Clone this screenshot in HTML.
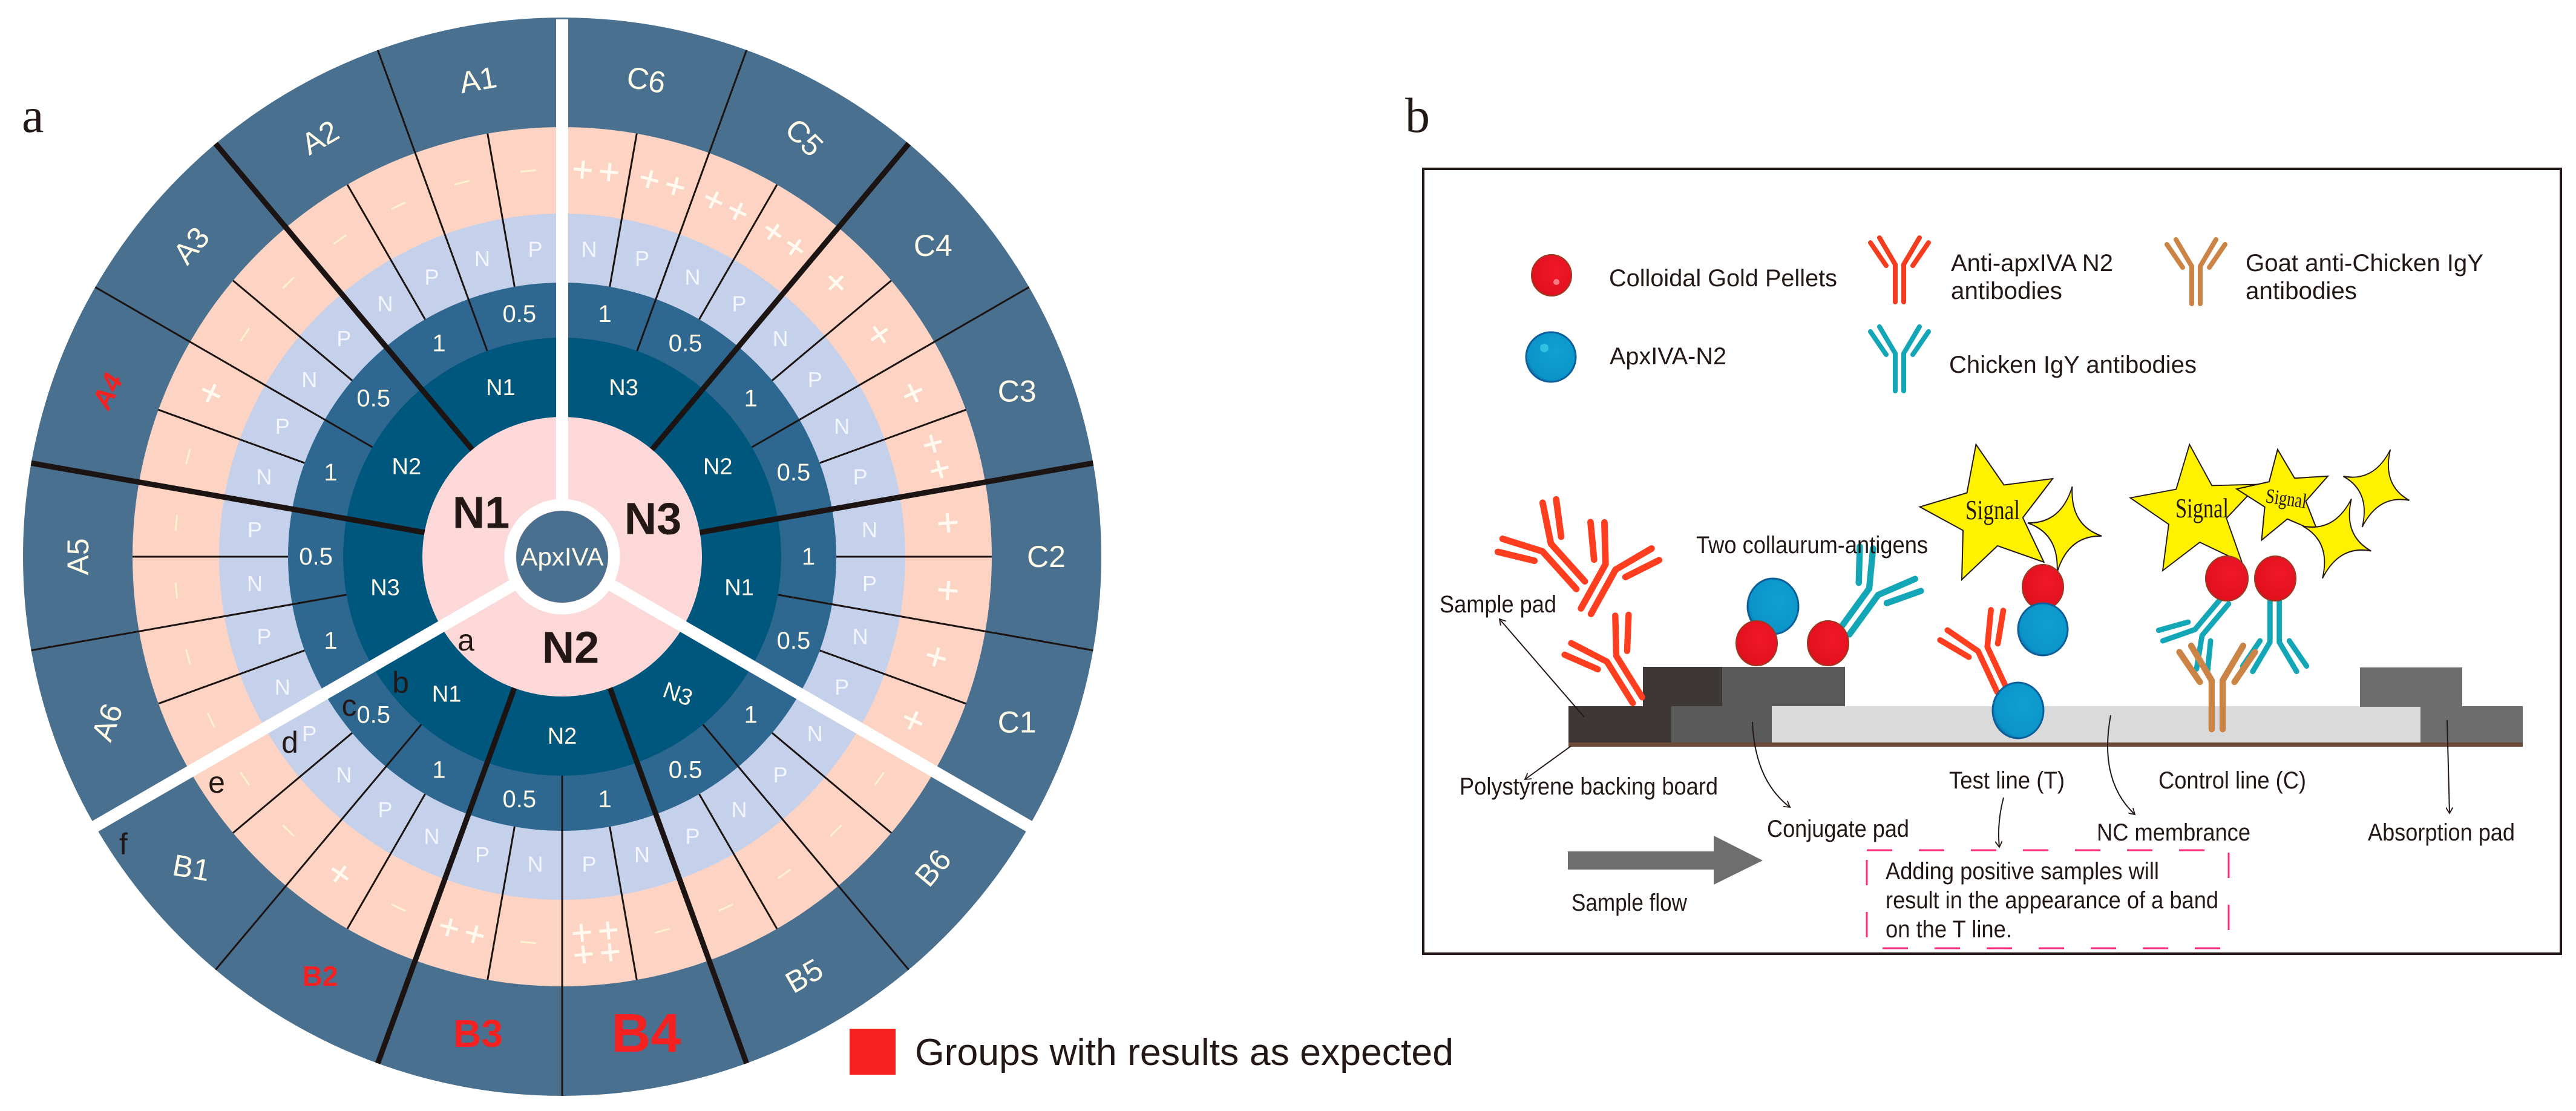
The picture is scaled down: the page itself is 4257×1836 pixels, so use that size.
<!DOCTYPE html>
<html><head><meta charset="utf-8"><style>
html,body{margin:0;padding:0;background:#fff;width:4257px;height:1836px;overflow:hidden}
svg{display:block}
.w{font-family:"Liberation Sans",sans-serif;fill:#fffbe6;text-anchor:middle;dominant-baseline:central}
.t{font-family:"Liberation Sans Narrow","Liberation Sans",sans-serif;fill:#231815;font-size:40px}
</style></head><body>
<svg width="4257" height="1836" viewBox="0 0 4257 1836" xmlns="http://www.w3.org/2000/svg">
<defs>
<g id="ab" fill="none" stroke="currentColor" stroke-width="8" stroke-linecap="round">
<path d="M-7,0V-62M7,0V-62M-7,-62L-33,-106M7,-62L33,-106M-22,-60L-48,-98M22,-60L48,-98"/>
</g>
<radialGradient id="gr" cx="0.6" cy="0.4" r="0.7"><stop offset="0" stop-color="#f0182a"/><stop offset="0.8" stop-color="#e3101e"/><stop offset="1" stop-color="#b81c20"/></radialGradient>
<radialGradient id="gb" cx="0.6" cy="0.4" r="0.7"><stop offset="0" stop-color="#10a0d0"/><stop offset="0.8" stop-color="#0b94c8"/><stop offset="1" stop-color="#0d5f9c"/></radialGradient>
<marker id="ar" markerWidth="12" markerHeight="12" refX="10" refY="6" orient="auto" markerUnits="userSpaceOnUse"><path d="M0,0L10,6L0,12" fill="none" stroke="#231815" stroke-width="1.8"/></marker>
<polygon id="st5" points="0,-1 0.265,-0.364 0.951,-0.309 0.428,0.139 0.588,0.809 0,0.45 -0.588,0.809 -0.428,0.139 -0.951,-0.309 -0.265,-0.364"/>
<path id="st4" d="M0,-1Q0.12,-0.12 1,0Q0.12,0.12 0,1Q-0.12,0.12 -1,0Q-0.12,-0.12 0,-1Z"/>
</defs>

<!-- ===== Panel a ===== -->
<text x="36" y="218" font-family="Liberation Serif,serif" font-size="82" fill="#231815">a</text>
<g transform="translate(929,920)">
<circle r="891" fill="#4a7090"/>
<circle r="710" fill="#fdd3c3"/>
<circle r="567" fill="#c5d1eb"/>
<circle r="453" fill="#2e6890"/>
<circle r="362" fill="#00577e"/>
<circle r="231" fill="#fdd8d8"/>
<g stroke="#1c1412" stroke-width="3">
<line transform="rotate(10)" y1="-453" y2="-710"/><line transform="rotate(30)" y1="-453" y2="-710"/><line transform="rotate(50)" y1="-453" y2="-710"/><line transform="rotate(70)" y1="-453" y2="-710"/><line transform="rotate(90)" y1="-453" y2="-710"/><line transform="rotate(110)" y1="-453" y2="-710"/><line transform="rotate(130)" y1="-453" y2="-710"/><line transform="rotate(150)" y1="-453" y2="-710"/><line transform="rotate(170)" y1="-453" y2="-710"/><line transform="rotate(190)" y1="-453" y2="-710"/><line transform="rotate(210)" y1="-453" y2="-710"/><line transform="rotate(230)" y1="-453" y2="-710"/><line transform="rotate(250)" y1="-453" y2="-710"/><line transform="rotate(270)" y1="-453" y2="-710"/><line transform="rotate(290)" y1="-453" y2="-710"/><line transform="rotate(310)" y1="-453" y2="-710"/><line transform="rotate(330)" y1="-453" y2="-710"/><line transform="rotate(350)" y1="-453" y2="-710"/>
<line transform="rotate(20)" y1="-362" y2="-891"/><line transform="rotate(60)" y1="-362" y2="-891"/><line transform="rotate(100)" y1="-362" y2="-891"/><line transform="rotate(140)" y1="-362" y2="-891"/><line transform="rotate(180)" y1="-362" y2="-891"/><line transform="rotate(220)" y1="-362" y2="-891"/><line transform="rotate(260)" y1="-362" y2="-891"/><line transform="rotate(300)" y1="-362" y2="-891"/><line transform="rotate(340)" y1="-362" y2="-891"/>
</g>
<g stroke="#1c1412" stroke-width="9">
<line transform="rotate(40)" y1="-231" y2="-891"/><line transform="rotate(80)" y1="-231" y2="-891"/><line transform="rotate(160)" y1="-231" y2="-891"/><line transform="rotate(200)" y1="-231" y2="-891"/><line transform="rotate(280)" y1="-231" y2="-891"/><line transform="rotate(320)" y1="-231" y2="-891"/>
</g>
<g stroke="#fff" stroke-width="20">
<line transform="rotate(0)" y1="-90" y2="-888"/><line transform="rotate(120)" y1="-90" y2="-893"/><line transform="rotate(240)" y1="-90" y2="-893"/>
</g>
<circle r="86" fill="none" stroke="#fff" stroke-width="19"/>
<circle r="76" fill="#4a7090"/>

<!-- pink ring symbols -->
<g fill="none" stroke="#fffaf0" stroke-width="5">
<path transform="rotate(5) translate(0,-640)" d="M-37,0H-7M-22,-15V15M7,0H37M22,-15V15"/>
<path transform="rotate(15) translate(0,-640)" d="M-37,0H-7M-22,-15V15M7,0H37M22,-15V15"/>
<path transform="rotate(25) translate(0,-640)" d="M-37,0H-7M-22,-15V15M7,0H37M22,-15V15"/>
<path transform="rotate(35) translate(0,-640)" d="M-37,0H-7M-22,-15V15M7,0H37M22,-15V15"/>
<path transform="rotate(45) translate(0,-640)" d="M-16,0H16M0,-16V16"/>
<path transform="rotate(55) translate(0,-640)" d="M-16,0H16M0,-16V16"/>
<path transform="rotate(65) translate(0,-640)" d="M-16,0H16M0,-16V16"/>
<path transform="rotate(75) translate(0,-640)" d="M-37,0H-7M-22,-15V15M7,0H37M22,-15V15"/>
<path transform="rotate(85) translate(0,-640)" d="M-16,0H16M0,-16V16"/>
<path transform="rotate(95) translate(0,-640)" d="M-16,0H16M0,-16V16"/>
<path transform="rotate(105) translate(0,-640)" d="M-16,0H16M0,-16V16"/>
<path transform="rotate(115) translate(0,-640)" d="M-16,0H16M0,-16V16"/>
<path transform="rotate(175) translate(0,-640)" d="M-37,-18H-7M-22,-33V-3M7,-18H37M22,-33V-3M-37,18H-7M-22,3V33M7,18H37M22,3V33"/>
<path transform="rotate(195) translate(0,-640)" d="M-37,0H-7M-22,-15V15M7,0H37M22,-15V15"/>
<path transform="rotate(215) translate(0,-640)" d="M-16,0H16M0,-16V16"/>
<path transform="rotate(295) translate(0,-640)" d="M-16,0H16M0,-16V16"/>
</g>
<g fill="none" stroke="#fff2cf" stroke-width="3">
<path transform="rotate(125) translate(0,-640)" d="M-13,0H13"/><path transform="rotate(135) translate(0,-640)" d="M-13,0H13"/><path transform="rotate(145) translate(0,-640)" d="M-13,0H13"/><path transform="rotate(155) translate(0,-640)" d="M-13,0H13"/><path transform="rotate(165) translate(0,-640)" d="M-13,0H13"/><path transform="rotate(185) translate(0,-640)" d="M-13,0H13"/><path transform="rotate(205) translate(0,-640)" d="M-13,0H13"/><path transform="rotate(225) translate(0,-640)" d="M-13,0H13"/><path transform="rotate(235) translate(0,-640)" d="M-13,0H13"/><path transform="rotate(245) translate(0,-640)" d="M-13,0H13"/><path transform="rotate(255) translate(0,-640)" d="M-13,0H13"/><path transform="rotate(265) translate(0,-640)" d="M-13,0H13"/><path transform="rotate(275) translate(0,-640)" d="M-13,0H13"/><path transform="rotate(285) translate(0,-640)" d="M-13,0H13"/><path transform="rotate(305) translate(0,-640)" d="M-13,0H13"/><path transform="rotate(315) translate(0,-640)" d="M-13,0H13"/><path transform="rotate(325) translate(0,-640)" d="M-13,0H13"/><path transform="rotate(335) translate(0,-640)" d="M-13,0H13"/><path transform="rotate(345) translate(0,-640)" d="M-13,0H13"/><path transform="rotate(355) translate(0,-640)" d="M-13,0H13"/>
</g>

<!-- P/N ring -->
<g class="w" font-size="36" style="fill:#f4f6ff">
<text transform="rotate(5) translate(0,-510) rotate(-5)">N</text><text transform="rotate(15) translate(0,-510) rotate(-15)">P</text><text transform="rotate(25) translate(0,-510) rotate(-25)">N</text><text transform="rotate(35) translate(0,-510) rotate(-35)">P</text><text transform="rotate(45) translate(0,-510) rotate(-45)">N</text><text transform="rotate(55) translate(0,-510) rotate(-55)">P</text><text transform="rotate(65) translate(0,-510) rotate(-65)">N</text><text transform="rotate(75) translate(0,-510) rotate(-75)">P</text><text transform="rotate(85) translate(0,-510) rotate(-85)">N</text><text transform="rotate(95) translate(0,-510) rotate(-95)">P</text><text transform="rotate(105) translate(0,-510) rotate(-105)">N</text><text transform="rotate(115) translate(0,-510) rotate(-115)">P</text>
<text transform="rotate(125) translate(0,-510) rotate(-125)">N</text><text transform="rotate(135) translate(0,-510) rotate(-135)">P</text><text transform="rotate(145) translate(0,-510) rotate(-145)">N</text><text transform="rotate(155) translate(0,-510) rotate(-155)">P</text><text transform="rotate(165) translate(0,-510) rotate(-165)">N</text><text transform="rotate(175) translate(0,-510) rotate(-175)">P</text><text transform="rotate(185) translate(0,-510) rotate(-185)">N</text><text transform="rotate(195) translate(0,-510) rotate(-195)">P</text><text transform="rotate(205) translate(0,-510) rotate(-205)">N</text><text transform="rotate(215) translate(0,-510) rotate(-215)">P</text><text transform="rotate(225) translate(0,-510) rotate(-225)">N</text><text transform="rotate(235) translate(0,-510) rotate(-235)">P</text>
<text transform="rotate(245) translate(0,-510) rotate(-245)">N</text><text transform="rotate(255) translate(0,-510) rotate(-255)">P</text><text transform="rotate(265) translate(0,-510) rotate(-265)">N</text><text transform="rotate(275) translate(0,-510) rotate(-275)">P</text><text transform="rotate(285) translate(0,-510) rotate(-285)">N</text><text transform="rotate(295) translate(0,-510) rotate(-295)">P</text><text transform="rotate(305) translate(0,-510) rotate(-305)">N</text><text transform="rotate(315) translate(0,-510) rotate(-315)">P</text><text transform="rotate(325) translate(0,-510) rotate(-325)">N</text><text transform="rotate(335) translate(0,-510) rotate(-335)">P</text><text transform="rotate(345) translate(0,-510) rotate(-345)">N</text><text transform="rotate(355) translate(0,-510) rotate(-355)">P</text>
</g>

<!-- concentration ring -->
<g class="w" font-size="40">
<text transform="rotate(10) translate(0,-407) rotate(-10)">1</text><text transform="rotate(30) translate(0,-407) rotate(-30)">0.5</text><text transform="rotate(50) translate(0,-407) rotate(-50)">1</text><text transform="rotate(70) translate(0,-407) rotate(-70)">0.5</text><text transform="rotate(90) translate(0,-407) rotate(-90)">1</text><text transform="rotate(110) translate(0,-407) rotate(-110)">0.5</text>
<text transform="rotate(130) translate(0,-407) rotate(-130)">1</text><text transform="rotate(150) translate(0,-407) rotate(-150)">0.5</text><text transform="rotate(170) translate(0,-407) rotate(-170)">1</text><text transform="rotate(190) translate(0,-407) rotate(-190)">0.5</text><text transform="rotate(210) translate(0,-407) rotate(-210)">1</text><text transform="rotate(230) translate(0,-407) rotate(-230)">0.5</text>
<text transform="rotate(250) translate(0,-407) rotate(-250)">1</text><text transform="rotate(270) translate(0,-407) rotate(-270)">0.5</text><text transform="rotate(290) translate(0,-407) rotate(-290)">1</text><text transform="rotate(310) translate(0,-407) rotate(-310)">0.5</text><text transform="rotate(330) translate(0,-407) rotate(-330)">1</text><text transform="rotate(350) translate(0,-407) rotate(-350)">0.5</text>
</g>

<!-- N ring -->
<g class="w" font-size="38">
<text transform="rotate(20) translate(0,-297) rotate(-20)">N3</text><text transform="rotate(60) translate(0,-297) rotate(-60)">N2</text><text transform="rotate(100) translate(0,-297) rotate(-100)">N1</text>
<text transform="rotate(140) translate(0,-297) rotate(-120)">N3</text><text transform="rotate(180) translate(0,-297) rotate(-180)">N2</text><text transform="rotate(220) translate(0,-297) rotate(-220)">N1</text>
<text transform="rotate(260) translate(0,-297) rotate(-260)">N3</text><text transform="rotate(300) translate(0,-297) rotate(-300)">N2</text><text transform="rotate(340) translate(0,-297) rotate(-340)">N1</text>
</g>

<!-- outer labels -->
<g class="w" font-size="50">
<text transform="rotate(10) translate(0,-800) rotate(0)">C6</text>
<text transform="rotate(30) translate(0,-800) rotate(15)">C5</text>
<text transform="rotate(50) translate(0,-800) rotate(-50)">C4</text>
<text transform="rotate(70) translate(0,-800) rotate(-70)">C3</text>
<text transform="rotate(90) translate(0,-800) rotate(-90)">C2</text>
<text transform="rotate(110) translate(0,-800) rotate(-110)">C1</text>
<text transform="rotate(130) translate(0,-800) rotate(-180)">B6</text>
<text transform="rotate(150) translate(0,-800) rotate(-180)">B5</text>
<text transform="rotate(230) translate(0,-800) rotate(-220)">B1</text>
<text transform="rotate(250) translate(0,-800) rotate(-320)">A6</text>
<text transform="rotate(270) translate(0,-800) rotate(-360)">A5</text>
<text transform="rotate(310) translate(0,-800) rotate(-360)">A3</text>
<text transform="rotate(330) translate(0,-800) rotate(-360)">A2</text>
<text transform="rotate(350) translate(0,-800) rotate(-360)">A1</text>
</g>
<g class="w" style="fill:#f52020;font-weight:bold">
<text transform="rotate(170) translate(0,-800) rotate(-170)" font-size="90">B4</text>
<text transform="rotate(190) translate(0,-800) rotate(-190)" font-size="64">B3</text>
<text transform="rotate(210) translate(0,-800) rotate(-210)" font-size="46">B2</text>
<text transform="rotate(290) translate(0,-800) rotate(-355)" font-size="46" font-style="italic">A4</text>
</g>

<text class="w" x="0" y="0" font-size="42">ApxIVA</text>
</g>
<g font-family="Liberation Sans,sans-serif" font-weight="bold" font-size="74" fill="#231815" text-anchor="middle" dominant-baseline="central">
<text x="795" y="847">N1</text><text x="1079" y="857">N3</text><text x="943" y="1070">N2</text>
</g>
<g font-family="Liberation Sans,sans-serif" font-size="50" fill="#231815" text-anchor="middle" dominant-baseline="central">
<text x="770" y="1058">a</text><text x="662" y="1128">b</text><text x="577" y="1166">c</text><text x="479" y="1227">d</text><text x="358" y="1293">e</text><text x="204" y="1395">f</text>
</g>

<rect x="1404" y="1700" width="76" height="76" fill="#f52020"/>
<text x="1512" y="1760" font-family="Liberation Sans,sans-serif" font-size="62" fill="#231815" textLength="890" lengthAdjust="spacingAndGlyphs">Groups with results as expected</text>

<!-- ===== Panel b ===== -->
<text x="2322" y="218" font-family="Liberation Serif,serif" font-size="82" fill="#231815">b</text>
<rect x="2352" y="279" width="1880" height="1297" fill="none" stroke="#231815" stroke-width="4"/>

<!-- legend -->
<ellipse cx="2564" cy="455" rx="33" ry="34" fill="url(#gr)" stroke="#9a3a20" stroke-width="2"/>
<circle cx="2572" cy="466" r="5" fill="#f57a85"/>
<circle cx="2563" cy="590" r="41" fill="url(#gb)" stroke="#0d5f9c" stroke-width="3"/>
<circle cx="2552" cy="575" r="7" fill="#30c0e0"/>
<use href="#ab" transform="translate(3139,499)" style="color:#f43c1e"/>
<use href="#ab" transform="translate(3629,502)" style="color:#cc8446"/>
<use href="#ab" transform="translate(3139,646)" style="color:#12a6b6"/>
<text class="t" x="2659" y="473" textLength="377" lengthAdjust="spacingAndGlyphs">Colloidal Gold Pellets</text>
<text class="t" x="3224" y="448" textLength="268" lengthAdjust="spacingAndGlyphs">Anti-apxIVA N2</text>
<text class="t" x="3224" y="494" textLength="184" lengthAdjust="spacingAndGlyphs">antibodies</text>
<text class="t" x="3711" y="448" textLength="393" lengthAdjust="spacingAndGlyphs">Goat anti-Chicken IgY</text>
<text class="t" x="3711" y="494" textLength="184" lengthAdjust="spacingAndGlyphs">antibodies</text>
<text class="t" x="2660" y="602" textLength="193" lengthAdjust="spacingAndGlyphs">ApxIVA-N2</text>
<text class="t" x="3221" y="616" textLength="409" lengthAdjust="spacingAndGlyphs">Chicken IgY antibodies</text>

<!-- strip -->
<rect x="2592" y="1167" width="170" height="62" fill="#3d3736"/>
<rect x="2715" y="1102" width="131" height="66" fill="#3d3736"/>
<rect x="2846" y="1102" width="203" height="66" fill="#595959"/>
<rect x="2762" y="1167" width="166" height="62" fill="#5a5a5a"/>
<rect x="2928" y="1167" width="1072" height="62" fill="#dadada"/>
<rect x="3900" y="1103" width="169" height="65" fill="#6d6d6d"/>
<rect x="4000" y="1167" width="169" height="62" fill="#6d6d6d"/>
<rect x="2592" y="1227" width="1577" height="7" fill="#6b4a3a"/>

<!-- sample pad antibodies -->
<use href="#ab" transform="translate(2612,967) rotate(-42) scale(1.35)" style="color:#ff3d1f"/>
<use href="#ab" transform="translate(2621,1010) rotate(29) scale(1.35)" style="color:#ff3d1f"/>
<use href="#ab" transform="translate(2706,1157) rotate(-32) scale(1.3)" style="color:#ff3d1f"/>

<!-- two collaurum antigens -->
<use href="#ab" transform="translate(3049,1043) rotate(36) scale(1.3)" style="color:#12a6b6"/>
<ellipse cx="2930" cy="1002" rx="42" ry="46" fill="url(#gb)" stroke="#0d5f9c" stroke-width="3"/>
<ellipse cx="2903" cy="1063" rx="34" ry="37" fill="url(#gr)" stroke="#9a3a20" stroke-width="2"/>
<ellipse cx="3021" cy="1063" rx="34" ry="37" fill="url(#gr)" stroke="#9a3a20" stroke-width="2"/>

<!-- test line -->
<g fill="#fff200" stroke="#231815" stroke-width="2" stroke-linejoin="miter">
<use href="#st5" transform="translate(3290,850) rotate(-12) scale(118)" stroke-width="0.017"/>
<use href="#st4" transform="translate(3412,875) rotate(10) scale(62,72)" stroke-width="0.03"/>
<use href="#st5" transform="translate(3630,846) rotate(-6) scale(112)" stroke-width="0.017"/>
<use href="#st5" transform="translate(3775,822) rotate(-8) scale(80)" stroke-width="0.025"/>
<use href="#st4" transform="translate(3862,890) rotate(20) scale(60,70)" stroke-width="0.03"/>
<use href="#st4" transform="translate(3927,807) rotate(20) scale(58,68)" stroke-width="0.03"/>
</g>
<g font-family="Liberation Serif,serif" fill="#231815">
<text x="3248" y="858" font-size="46" textLength="90" lengthAdjust="spacingAndGlyphs">Signal</text>
<text x="3595" y="855" font-size="46" textLength="88" lengthAdjust="spacingAndGlyphs">Signal</text>
<text x="3744" y="835" font-size="34" textLength="68" lengthAdjust="spacingAndGlyphs" transform="rotate(8 3778 825)">Signal</text>
</g>
<use href="#ab" transform="translate(3308,1140) rotate(-25) scale(1.2)" style="color:#ff3d1f"/>
<ellipse cx="3376" cy="970" rx="34" ry="37" fill="url(#gr)" stroke="#9a3a20" stroke-width="2"/>
<ellipse cx="3376" cy="1040" rx="41" ry="43" fill="url(#gb)" stroke="#0d5f9c" stroke-width="3"/>
<ellipse cx="3335" cy="1174" rx="42" ry="46" fill="url(#gb)" stroke="#0d5f9c" stroke-width="3"/>

<!-- control line -->
<use href="#ab" transform="translate(3677,993) rotate(-140) scale(1.1)" style="color:#12a6b6"/>
<use href="#ab" transform="translate(3759,993) rotate(180) scale(1.1)" style="color:#12a6b6"/>
<use href="#ab" transform="translate(3664,1205) scale(1.3)" style="color:#cc8446"/>
<ellipse cx="3680" cy="956" rx="35" ry="37" fill="url(#gr)" stroke="#9a3a20" stroke-width="2"/>
<ellipse cx="3760" cy="956" rx="34" ry="37" fill="url(#gr)" stroke="#9a3a20" stroke-width="2"/>

<!-- pointer lines -->
<g fill="none" stroke="#231815" stroke-width="2" marker-end="url(#ar)">
<path d="M2618,1185L2478,1023"/>
<path d="M2596,1233L2520,1288"/>
<path d="M2896,1193Q2900,1290 2958,1334"/>
<path d="M3311,1318Q3300,1360 3304,1400"/>
<path d="M3488,1182Q3468,1290 3528,1346"/>
<path d="M4044,1190L4048,1344"/>
</g>

<!-- labels -->
<text class="t" x="2379" y="1012" textLength="193" lengthAdjust="spacingAndGlyphs">Sample pad</text>
<text class="t" x="2803" y="914" textLength="383" lengthAdjust="spacingAndGlyphs">Two collaurum-antigens</text>
<text class="t" x="2412" y="1313" textLength="427" lengthAdjust="spacingAndGlyphs">Polystyrene backing board</text>
<text class="t" x="3221" y="1303" textLength="191" lengthAdjust="spacingAndGlyphs">Test line (T)</text>
<text class="t" x="3567" y="1303" textLength="244" lengthAdjust="spacingAndGlyphs">Control line (C)</text>
<text class="t" x="2920" y="1383" textLength="235" lengthAdjust="spacingAndGlyphs">Conjugate pad</text>
<text class="t" x="3465" y="1389" textLength="254" lengthAdjust="spacingAndGlyphs">NC membrance</text>
<text class="t" x="3913" y="1389" textLength="243" lengthAdjust="spacingAndGlyphs">Absorption pad</text>
<text class="t" x="2597" y="1505" textLength="191" lengthAdjust="spacingAndGlyphs">Sample flow</text>

<!-- flow arrow -->
<path d="M2591,1407H2832V1381L2913,1422L2832,1462V1437H2591Z" fill="#6e6e6e"/>

<!-- dashed box -->
<rect x="3085" y="1405" width="598" height="162" fill="none" stroke="#ff2a78" stroke-width="3" stroke-dasharray="42,44"/>
<text class="t" x="3116" y="1453" textLength="452" lengthAdjust="spacingAndGlyphs">Adding positive samples will</text>
<text class="t" x="3116" y="1501" textLength="550" lengthAdjust="spacingAndGlyphs">result in the appearance of a band</text>
<text class="t" x="3116" y="1549" textLength="209" lengthAdjust="spacingAndGlyphs">on the T line.</text>
</svg>
</body></html>
